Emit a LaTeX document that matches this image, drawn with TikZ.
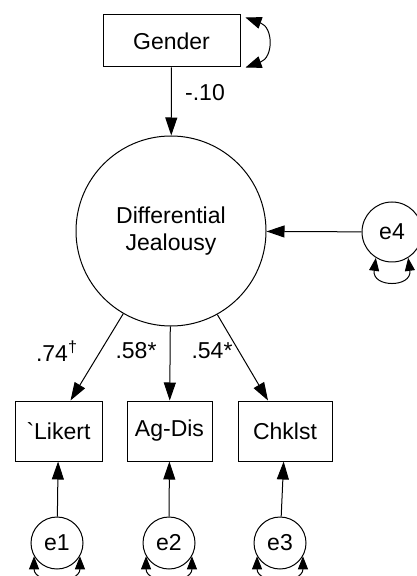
\documentclass[tikz,border=0pt]{standalone}
\usepackage{fontspec}
\setmainfont{Liberation Sans}
\usetikzlibrary{arrows.meta}
\begin{document}
\begin{tikzpicture}
        [x=0.5pt, y=-0.5pt, font=\fontsize{11.5}{13.5}\selectfont,
        latent/.style={circle, draw, line width=0.5pt, minimum size=95pt, inner sep=0pt, align=center},
        obs/.style={rectangle, draw, line width=0.5pt, minimum height=30pt, inner sep=0pt},
        err/.style={circle, draw, line width=0.5pt, minimum size=26pt, inner sep=0pt},
        coef/.style={inner sep=0pt},
        regpath/.style={line width=0.5pt, black, -{Triangle[length=9pt, width=6pt]}},
        varloop/.style={line width=0.5pt, black, {Triangle[length=8pt, width=6pt]}-{Triangle[length=8pt, width=6pt]}},
        errloop/.style={line width=0.5pt, black, {Triangle[length=6.5pt, width=5pt]}-{Triangle[length=6.5pt, width=5pt]}}]

        \useasboundingbox (0,0) rectangle (416,576);

        \node[obs, minimum width=68.5pt, minimum height=26pt] (gender) at (171.5,41) {Gender};
        \node[latent] (dj) at (171,231) {Differential\\Jealousy};
        \node[err, minimum size=30pt] (e4) at (392,232) {e4};
        \node[obs, minimum width=43.5pt] (likert) at (58.5,431) {\textasciigrave Likert};
        \node[obs, minimum width=42.5pt] (agdis) at (169.5,431) {Ag-Dis};
        \node[obs, minimum width=47pt] (chklst) at (285,431) {Chklst};
        \node[err] (e1) at (57,543) {e1};
        \node[err] (e2) at (169,543) {e2};
        \node[err] (e3) at (280,543) {e3};

        % path coefficients
        \node[coef] (c10) at (205,93) {-.10};
        \node[coef] (c74) at (57,351) {.74\textsuperscript{\textdagger}};
        \node[coef] (c58) at (136,351) {.58*};
        \node[coef] (c54) at (212,351) {.54*};

        % regression paths
        \draw[regpath] (gender) -- (dj);
        \draw[regpath] (e4) -- (dj);
        \draw[regpath] (dj.-120) -- ([xshift=6pt]likert.north);
        \draw[regpath] (dj) -- (agdis);
        \draw[regpath] (dj.-61) -- ([xshift=-8.5pt]chklst.north);
        \draw[regpath] (e1) -- (likert);
        \draw[regpath] (e2) -- (agdis);
        \draw[regpath] (e3) -- (chklst);

        % variances
        \draw[varloop] ([shift={(2.5pt,-1.5pt)}]gender.north east) .. controls +(14pt,-5pt) and +(14pt,5pt) .. ([shift={(2.5pt,0pt)}]gender.south east);
        \draw[errloop] (e4.-122) .. controls +(-2pt,-15pt) and +(2pt,-15pt) .. (e4.-58);
        \draw[errloop] (e1.-150) .. controls +(0pt,-14pt) and +(0pt,-14pt) .. (e1.-30);
        \draw[errloop] (e2.-150) .. controls +(0pt,-14pt) and +(0pt,-14pt) .. (e2.-30);
        \draw[errloop] (e3.-150) .. controls +(0pt,-14pt) and +(0pt,-14pt) .. (e3.-30);

\end{tikzpicture}
\end{document}
